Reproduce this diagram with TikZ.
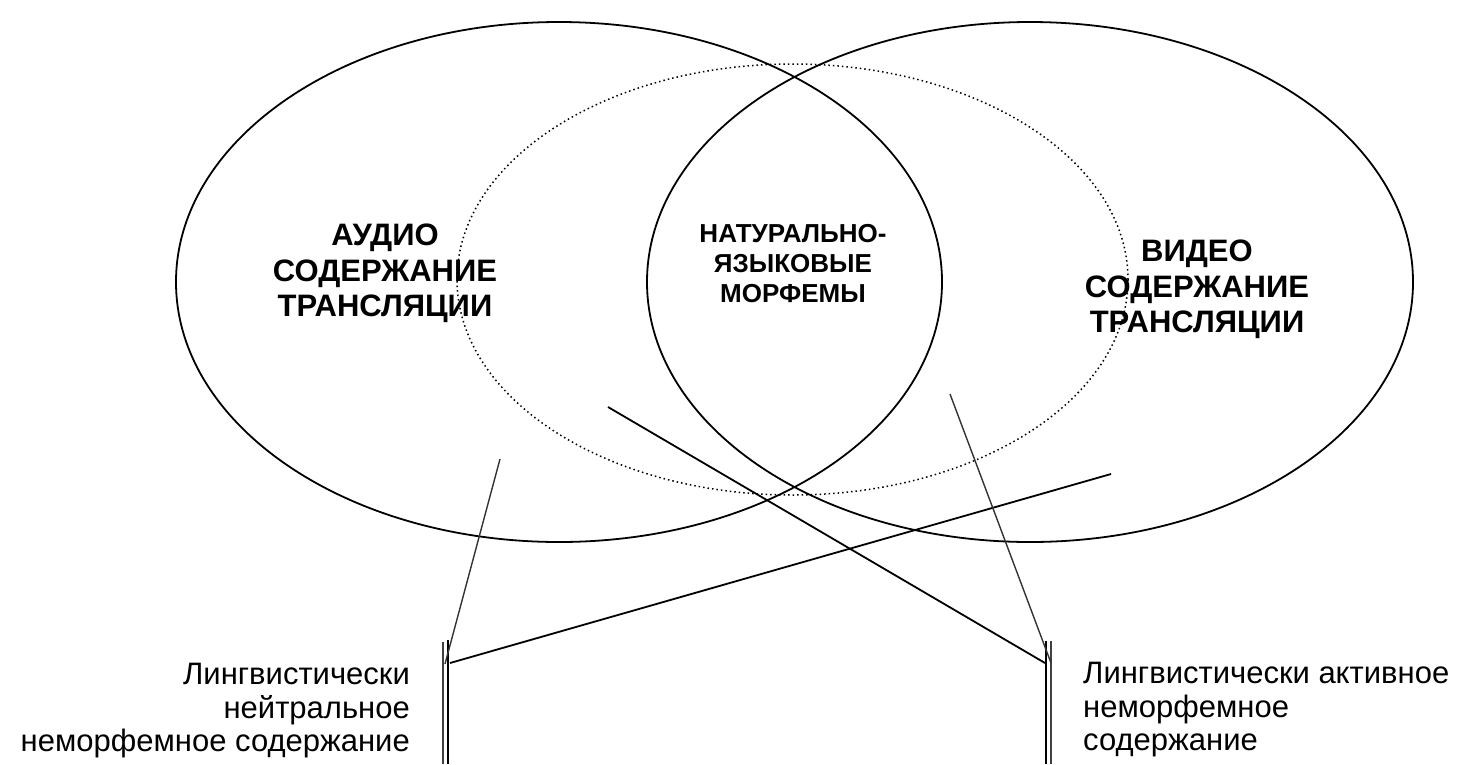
\documentclass[tikz,border=0pt]{standalone}
\usepackage{fontspec}
\setmainfont{Liberation Sans}
\usetikzlibrary{shapes.geometric}

\begin{document}
\begin{tikzpicture}[
x=1pt, y=-1pt,
zone/.style={draw, ellipse, inner sep=0pt, line width=1.8pt},
dotzone/.style={draw, ellipse, inner sep=0pt, line width=1.5pt, dash pattern=on 1.5pt off 3pt},
bigtext/.style={anchor=north, inner sep=0pt, align=center, font=\fontsize{31}{35.5}\bfseries\selectfont},
midtext/.style={anchor=north, inner sep=0pt, align=center, font=\fontsize{26}{30}\bfseries\selectfont},
note/.style={inner sep=0pt, font=\fontsize{31}{33.5}\selectfont},
link/.style={line width=1.8pt},
thinlink/.style={line width=1.4pt, black!80},
rail/.style={line width=1.8pt},
thinrail/.style={line width=1.4pt, black!75}
]
\useasboundingbox (0,0) rectangle (1463,764);

\node[zone, minimum width=766pt, minimum height=520pt] (audio) at (559,282) {};
\node[zone, minimum width=766pt, minimum height=520pt] (video) at (1030,282) {};
\node[dotzone, minimum width=671pt, minimum height=431pt] (morph) at (792.5,279.5) {};

\node[bigtext] (audiotxt) at (385,224) {АУДИО\\СОДЕРЖАНИЕ\\ТРАНСЛЯЦИИ};
\node[bigtext] (videotxt) at (1197,240) {ВИДЕО\\СОДЕРЖАНИЕ\\ТРАНСЛЯЦИИ};
\node[midtext] (morphtxt) at (793,224.5) {НАТУРАЛЬНО-\\ЯЗЫКОВЫЕ\\МОРФЕМЫ};

\node[note, anchor=north east, align=right] (neutral) at (410,663) {Лингвистически\\нейтральное\\неморфемное содержание};
\node[note, anchor=north west, align=left] (active) at (1083,662) {Лингвистически активное\\неморфемное\\содержание};

\coordinate (a1) at (500,459);
\coordinate (a2) at (608,407);
\coordinate (v1) at (950,394);
\coordinate (v2) at (1111,474);
\coordinate (ltop) at (443,642);
\coordinate (lbot) at (443,764);
\coordinate (ltop2) at (448,640);
\coordinate (lbot2) at (448,764);
\coordinate (rtop) at (1046,641);
\coordinate (rbot) at (1046,764);
\coordinate (rtop2) at (1051,641);
\coordinate (rbot2) at (1051,764);
\coordinate (lin1) at (445,664);
\coordinate (lin2) at (450,663);
\coordinate (rin1) at (1045,663);
\coordinate (rin2) at (1051,663);

\draw[thinrail] (ltop) -- (lbot);
\draw[rail] (ltop2) -- (lbot2);
\draw[rail] (rtop) -- (rbot);
\draw[thinrail] (rtop2) -- (rbot2);

\draw[thinlink] (a1) -- (lin1);
\draw[link] (v2) -- (lin2);
\draw[link] (a2) -- (rin1);
\draw[thinlink] (v1) -- (rin2);
\end{tikzpicture}
\end{document}
